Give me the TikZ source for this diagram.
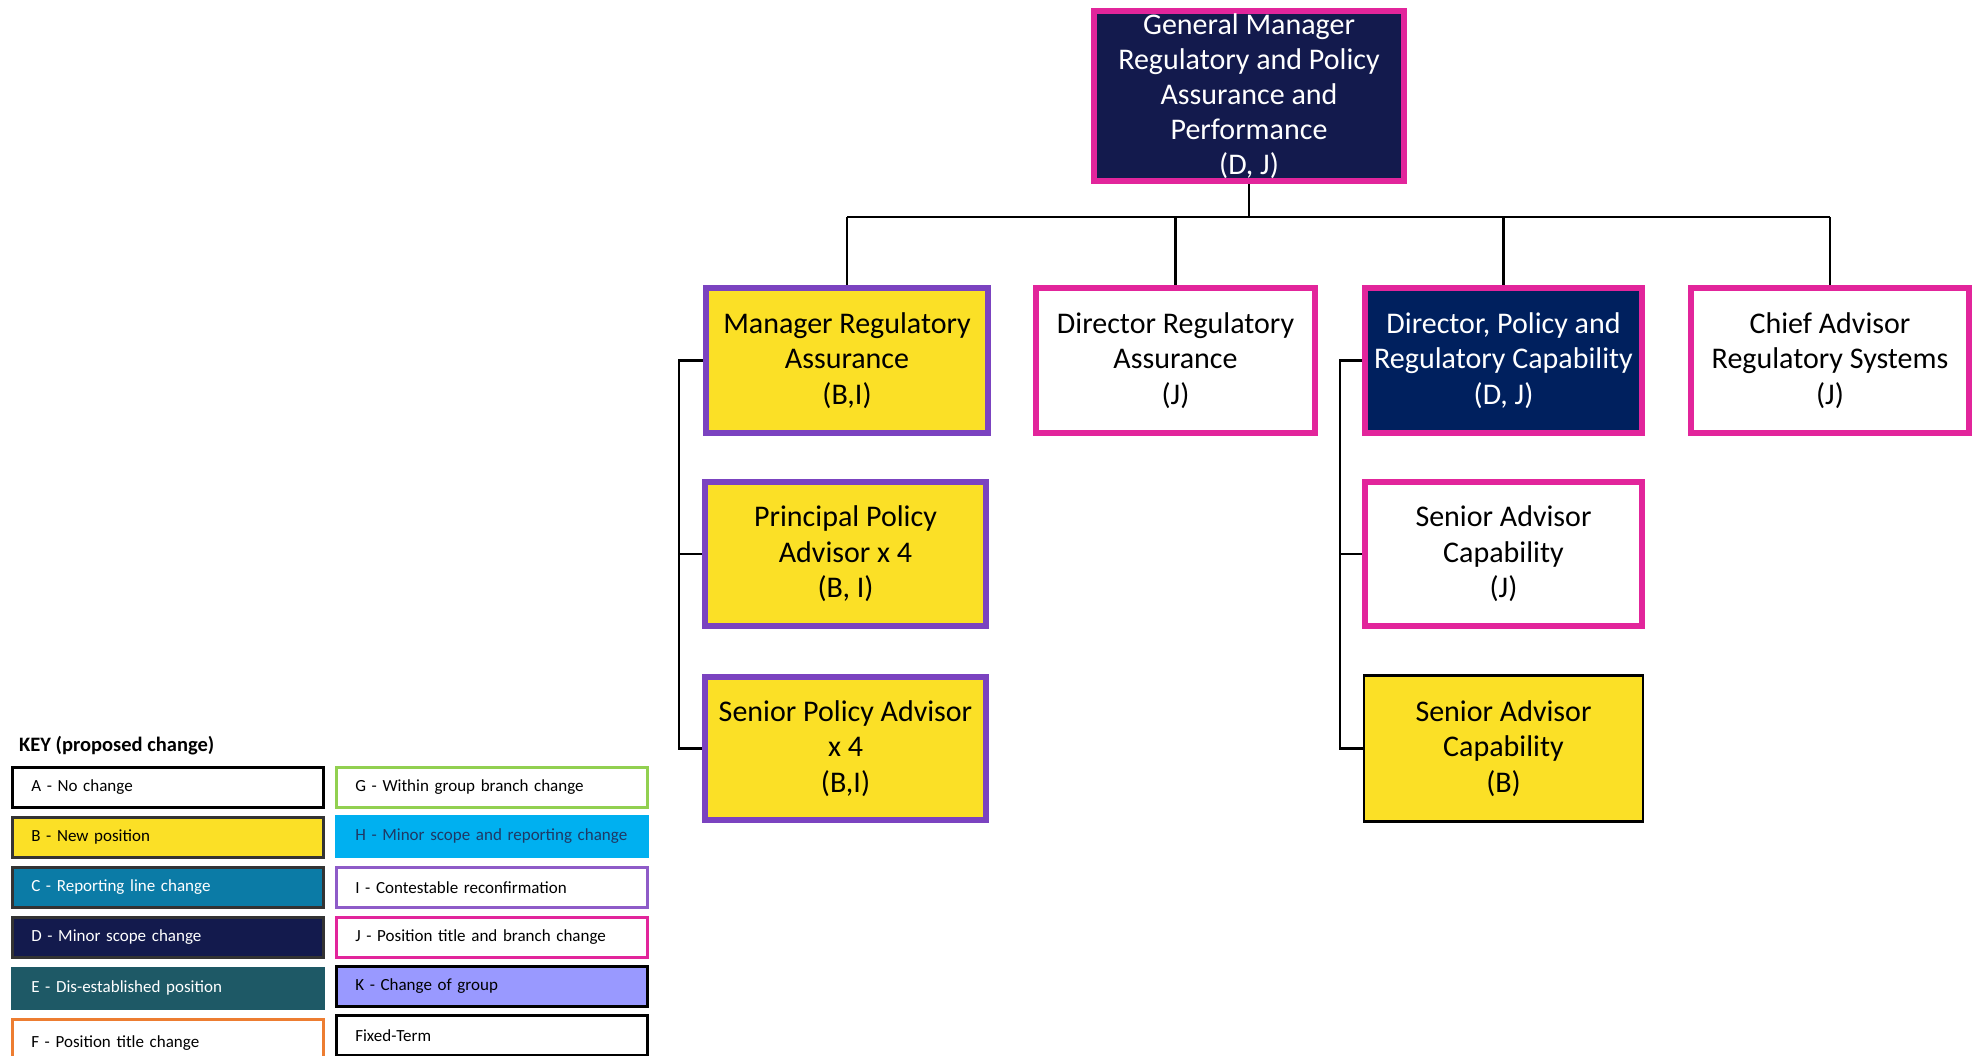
\documentclass[tikz,border=0pt]{standalone}
\usepackage{fontspec}
\setmainfont{Carlito}
\definecolor{gmnavy}{HTML}{131A4D}
\definecolor{dnavy}{HTML}{00205E}
\definecolor{jpink}{HTML}{E2259B}
\definecolor{ipurple}{HTML}{7B43C0}
\definecolor{byellow}{HTML}{FBE026}
\definecolor{kcblue}{HTML}{0B7BA6}
\definecolor{kenavy}{HTML}{131A4D}
\definecolor{ketea}{HTML}{1E5966}
\definecolor{khcyan}{HTML}{00B0F0}
\definecolor{kkviolet}{HTML}{9999FF}
\definecolor{kggreen}{HTML}{92D050}
\definecolor{kforange}{HTML}{ED7D31}
\definecolor{kipurple}{HTML}{8E5BC8}
\definecolor{khtext}{HTML}{1F3864}
\tikzset{
  orgbox/.style={rectangle, align=center, inner sep=0pt, line width=6pt,
    minimum width=282pt, minimum height=145pt,
    font=\fontsize{30}{35.5}\selectfont},
  jbox/.style={orgbox, draw=jpink, fill=white, text=black},
  ibox/.style={orgbox, draw=ipurple, fill=byellow, text=black},
  conn/.style={draw=black, line width=2.2pt},
  keyitem/.style={rectangle, anchor=north west, line width=2.5pt,
    text width=273pt, inner xsep=19pt, inner ysep=0pt, minimum height=40pt,
    align=left, font=\fontsize{17}{20}\selectfont},
}
\begin{document}
\begin{tikzpicture}[x=1pt,y=-1pt]
\useasboundingbox (0,0) rectangle (1975,1055);
\fill[white] (0,0) rectangle (1975,1055);

% coordinates for connector bars
\coordinate (hbar) at (0,217);
\coordinate (lbar) at (679,0);
\coordinate (rbar) at (1340,0);

% top
\node[orgbox, draw=jpink, fill=gmnavy, text=white, minimum width=310pt, minimum height=170pt,
  font=\fontsize{30}{35}\selectfont]
  (gm) at (1249,96) {General Manager\\Regulatory and Policy\\Assurance and\\Performance\\(D, J)};

% row 1
\node[ibox] (mra) at (847,360.5) {Manager Regulatory\\Assurance\\(B,I)};
\node[jbox, minimum width=279pt] (dra) at (1175.5,360.5) {Director Regulatory\\Assurance\\(J)};
\node[orgbox, draw=jpink, fill=dnavy, text=white, minimum width=277pt] (dprc) at (1503.5,360.5)
  {Director, Policy and\\Regulatory Capability\\(D, J)};
\node[jbox, minimum width=278pt] (cars) at (1830,360.5) {Chief Advisor\\Regulatory Systems\\(J)};

% row 2
\node[ibox, minimum width=281pt, minimum height=144pt] (ppa) at (845.5,554) {Principal Policy\\Advisor x 4\\(B, I)};
\node[jbox, minimum width=277pt, minimum height=144pt] (sacj) at (1503.5,554) {Senior Advisor\\Capability\\(J)};

% row 3
\node[ibox, minimum width=281pt, minimum height=143pt] (spa) at (845.5,748.5) {Senior Policy Advisor\\x 4\\(B,I)};
\node[orgbox, draw=black, line width=2.5pt, fill=byellow, text=black, minimum width=279pt, minimum height=146pt]
  (sacb) at (1503.5,748.5) {Senior Advisor\\Capability\\(B)};

% connectors
\draw[conn] (gm.south) -- (gm.south |- hbar);
\draw[conn] (mra.north |- hbar) -- (cars.north |- hbar);
\draw[conn] (mra.north |- hbar) -- (mra.north);
\draw[conn] (dra.north |- hbar) -- (dra.north);
\draw[conn] (dprc.north |- hbar) -- (dprc.north);
\draw[conn] (cars.north |- hbar) -- (cars.north);

\draw[conn] (mra.west) -- (mra.west -| lbar) -- (spa.west -| lbar) -- (spa.west);
\draw[conn] (ppa.west -| lbar) -- (ppa.west);
\draw[conn] (dprc.west) -- (dprc.west -| rbar) -- (sacb.west -| rbar) -- (sacb.west);
\draw[conn] (sacj.west -| rbar) -- (sacj.west);

% key
\node[anchor=west, inner sep=0pt, font=\fontsize{20.5}{24}\selectfont\bfseries] (keytitle) at (19,746) {KEY (proposed change)};

\node[keyitem, draw=black, fill=white, text=black] (ka) at (11,766) {A - No change};
\node[keyitem, draw=black!80, fill=byellow, text=black] (kb) at (11,816) {B - New position};
\node[keyitem, draw=black!80, fill=kcblue, text=white] (kc) at (11,866) {C - Reporting line change};
\node[keyitem, draw=black!80, fill=kenavy, text=white] (kd) at (11,916) {D - Minor scope change};
\node[keyitem, draw=ketea, fill=ketea, text=white] (ke) at (11,967) {E - Dis-established position};
\node[keyitem, draw=kforange, fill=white, text=black, minimum height=48pt] (kf) at (11,1018) {F - Position title change};

\node[keyitem, draw=kggreen, fill=white, text=black] (kg) at (335,766) {G - Within group branch change};
\node[keyitem, draw=khcyan, fill=khcyan, text=khtext] (kh) at (335,815) {H - Minor scope and reporting change};
\node[keyitem, draw=kipurple, fill=white, text=black] (ki) at (335,866) {I - Contestable reconfirmation};
\node[keyitem, draw=jpink, fill=white, text=black] (kj) at (335,916) {J - Position title and branch change};
\node[keyitem, draw=black, fill=kkviolet, text=black] (kk) at (335,965) {K - Change of group};
\node[keyitem, draw=black, fill=white, text=black] (kft) at (335,1014) {Fixed-Term};
\end{tikzpicture}
\end{document}
